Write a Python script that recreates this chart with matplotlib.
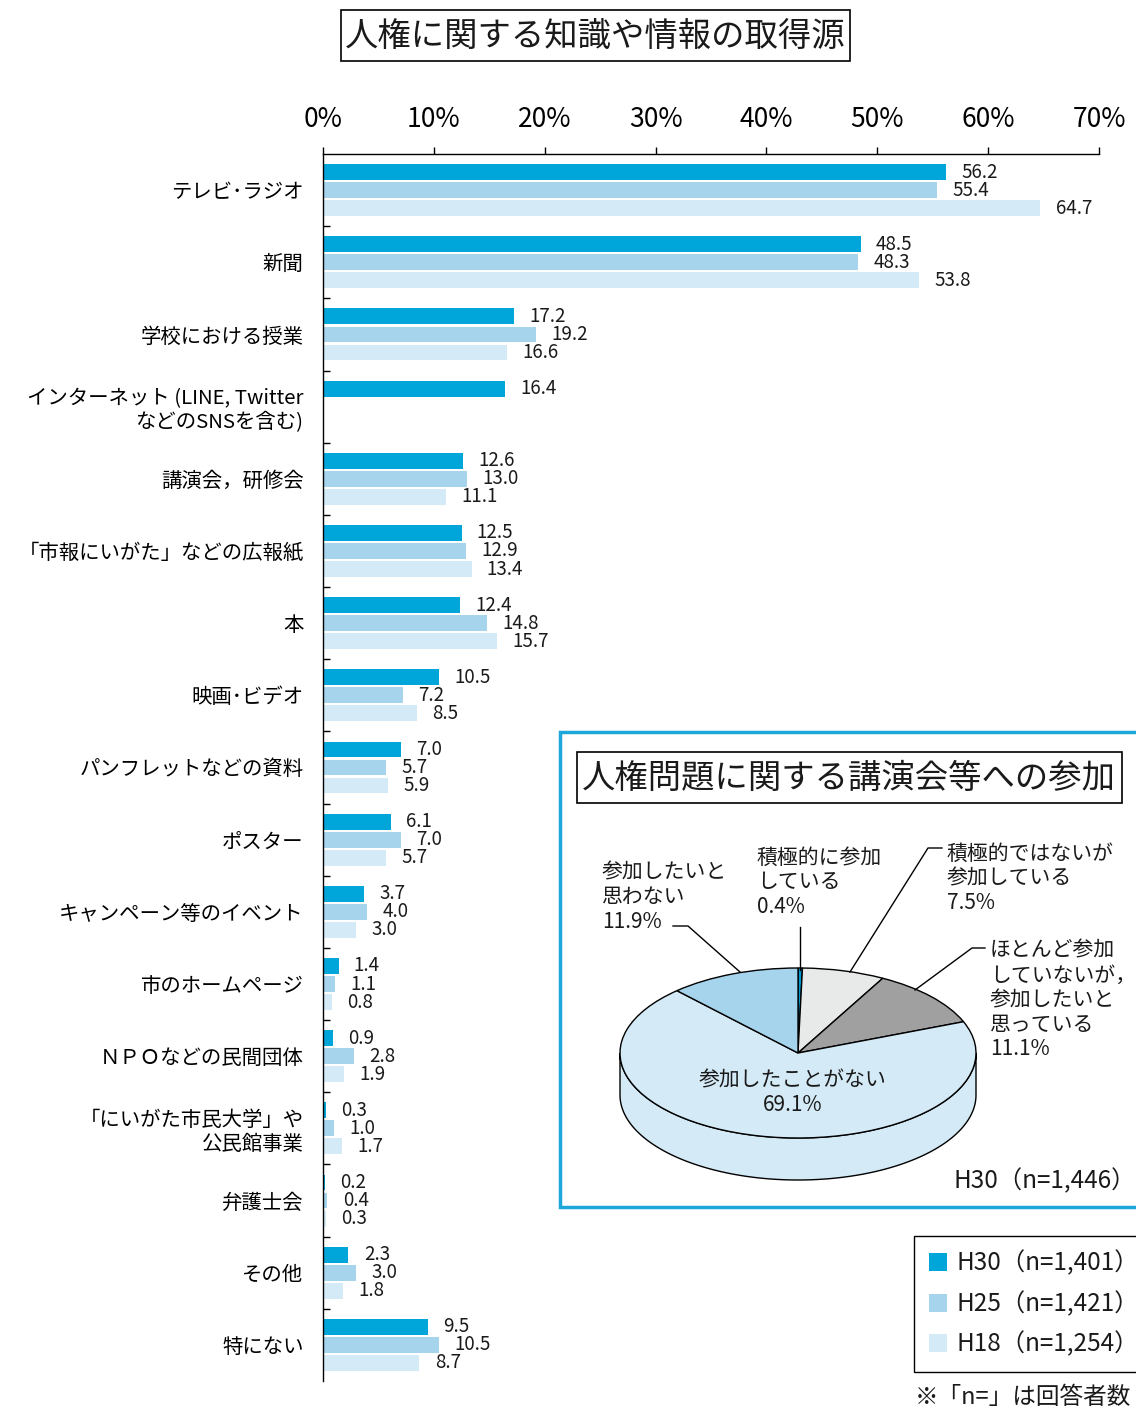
import numpy as np
import matplotlib
matplotlib.use('Agg')
import matplotlib.pyplot as plt
from matplotlib.patches import Rectangle, Polygon
from matplotlib.lines import Line2D

plt.rcParams['font.family'] = ['Noto Sans CJK JP', 'DejaVu Sans']
TXT = '#1a1a1a'
plt.rcParams['text.color'] = TXT

W, H = 1136, 1410

# ---------------- data ----------------
categories = [
    'テレビ･ラジオ',
    '新聞',
    '学校における授業',
    'インターネット (LINE, Twitter\nなどのSNSを含む)',
    '講演会，研修会',
    '「市報にいがた」などの広報紙',
    '本',
    '映画･ビデオ',
    'パンフレットなどの資料',
    'ポスター',
    'キャンペーン等のイベント',
    '市のホームページ',
    'ＮＰＯなどの民間団体',
    '「にいがた市民大学」や\n公民館事業',
    '弁護士会',
    'その他',
    '特にない',
]
h30 = [56.2, 48.5, 17.2, 16.4, 12.6, 12.5, 12.4, 10.5, 7.0, 6.1, 3.7, 1.4, 0.9, 0.3, 0.2, 2.3, 9.5]
h25 = [55.4, 48.3, 19.2, None, 13.0, 12.9, 14.8, 7.2, 5.7, 7.0, 4.0, 1.1, 2.8, 1.0, 0.4, 3.0, 10.5]
h18 = [64.7, 53.8, 16.6, None, 11.1, 13.4, 15.7, 8.5, 5.9, 5.7, 3.0, 0.8, 1.9, 1.7, 0.3, 1.8, 8.7]
series_labels = ['H30（n=1,401）', 'H25（n=1,421）', 'H18（n=1,254）']
xticks = [0, 10, 20, 30, 40, 50, 60, 70]
xtick_labels = ['0%', '10%', '20%', '30%', '40%', '50%', '60%', '70%']

pie_values = [0.4, 7.5, 11.1, 69.1, 11.9]
pie_names = ['積極的に参加\nしている', '積極的ではないが\n参加している',
             'ほとんど参加\nしていないが，\n参加したいと\n思っている',
             '参加したことがない', '参加したいと\n思わない']
pie_n_label = 'H30（n=1,446）'

# ---------------- styles ----------------
bar_colors = ['#00A6D9', '#A5D4EC', '#D4EAF7']
pie_colors = ['#0098D0', '#E8E9E9', '#A0A0A0', '#D4EAF7', '#A5D4EC']
cyan = '#1DA6DA'

fig = plt.figure(figsize=(W / 100, H / 100), dpi=100)

# overlay axes in pixel coordinates (for boxes)
ov = fig.add_axes([0, 0, 1, 1], zorder=-1)
ov.set_xlim(0, W)
ov.set_ylim(H, 0)
ov.axis('off')

# title
ov.add_patch(Rectangle((341, 10), 509, 51, fill=False, ec='black', lw=1.2))
ov.text(595, 36, '人権に関する知識や情報の取得源', ha='center', va='center', fontsize=24)

# ---------------- bar chart ----------------
ax = fig.add_axes([323 / W, 1 - 1381 / H, (1099 - 323) / W, (1381 - 154) / H])
ax.patch.set_alpha(0)
y = np.arange(len(categories))
offsets = [-0.25, 0.0, 0.25]
for vals, off, col, lab in zip([h30, h25, h18], offsets, bar_colors, series_labels):
    idx = [i for i, v in enumerate(vals) if v is not None]
    vv = [vals[i] for i in idx]
    ax.barh(y[idx] + off, vv, height=0.22, color=col, label=lab)
    for i, v in zip(idx, vv):
        ax.annotate(f'{v:.1f}', xy=(v, i + off), xytext=(11, 0), textcoords='offset points',
                    va='center', ha='left', fontsize=13.5)

ax.set_xlim(0, 70)
ax.set_ylim(16.5, -0.5)
ax.xaxis.tick_top()
ax.set_xticks(xticks, xtick_labels)
ax.tick_params(axis='x', direction='out', length=5, pad=10, labelsize=19, width=1)
ax.set_yticks(y, categories)
ax.tick_params(axis='y', which='major', length=0, pad=14, labelsize=14.7)
ax.set_yticks(np.arange(0.5, 16.5, 1), minor=True)
ax.tick_params(axis='y', which='minor', direction='in', length=5, width=1)
for s in ['right', 'bottom']:
    ax.spines[s].set_visible(False)
for s in ['left', 'top']:
    ax.spines[s].set_linewidth(1)

# ---------------- inset box ----------------
ov.add_patch(Rectangle((560, 732), 600, 475, fc='white', ec=cyan, lw=2.5))
ov.add_patch(Rectangle((577, 752), 545, 51, fill=False, ec='black', lw=1.2))
ov.text(849, 778, '人権問題に関する講演会等への参加', ha='center', va='center', fontsize=24)
ov.text(1136, 1181, pie_n_label, ha='right', va='center', fontsize=17.5)

# ---------------- pie ----------------
pax = fig.add_axes([598 / W, 1 - 1200 / H, 400 / W, 260 / H], zorder=1)
pax.patch.set_alpha(0)
depth = 42 / 85
t = np.linspace(np.pi, 2 * np.pi, 200)
xs, ys = np.cos(t), np.sin(t)
side = np.concatenate([np.column_stack([xs, ys]), np.column_stack([xs[::-1], ys[::-1] - depth])])
pax.add_patch(Polygon(side, closed=True, facecolor=pie_colors[3], edgecolor='black', lw=1))
pax.pie(pie_values, colors=pie_colors, startangle=90, counterclock=False,
        wedgeprops=dict(edgecolor='black', linewidth=1))
pax.set_aspect('auto')
pax.set_xlim(-200 / 178, 200 / 178)
pax.set_ylim(-147 / 85, 113 / 85)
pax.axis('off')


def ftext(x, yy, s, **kw):
    fig.text(x / W, 1 - yy / H, s, zorder=5, **kw)


def fline(xs_, ys_):
    fig.add_artist(Line2D([x / W for x in xs_], [1 - v / H for v in ys_], color='black', lw=1, zorder=5))


pfs = 15
ls = 1.15
ftext(602, 897, f'{pie_names[4]}\n{pie_values[4]:.1f}%', ha='left', va='center', fontsize=pfs, linespacing=ls)
fline([673, 688, 740], [926, 926, 972])
ftext(757, 882, f'{pie_names[0]}\n{pie_values[0]:.1f}%', ha='left', va='center', fontsize=pfs, linespacing=ls)
fline([800, 800], [927, 970])
ftext(947, 878, f'{pie_names[1]}\n{pie_values[1]:.1f}%', ha='left', va='center', fontsize=pfs, linespacing=ls)
fline([942, 928, 850], [848, 848, 972])
ftext(990, 1000, f'{pie_names[2]}\n{pie_values[2]:.1f}%', ha='left', va='center', fontsize=pfs, linespacing=ls)
fline([985, 972, 915], [948, 948, 990])
ftext(793, 1093, f'{pie_names[3]}\n{pie_values[3]:.1f}%', ha='center', va='center', fontsize=pfs,
      linespacing=ls, multialignment='center')

# ---------------- legend ----------------
leg = fig.legend(loc='upper left', bbox_to_anchor=(914 / W, 1 - 1236 / H), frameon=True, fancybox=False,
                 edgecolor='black', fontsize=17.5, handlelength=0.75, handleheight=0.75, handletextpad=0.4,
                 labelspacing=0.6, borderpad=0.6, borderaxespad=0, framealpha=1)
leg.get_frame().set_linewidth(1)

ftext(915, 1398, '※「n=」は回答者数', ha='left', va='center', fontsize=17)

fig.savefig('out.png', dpi=100)
